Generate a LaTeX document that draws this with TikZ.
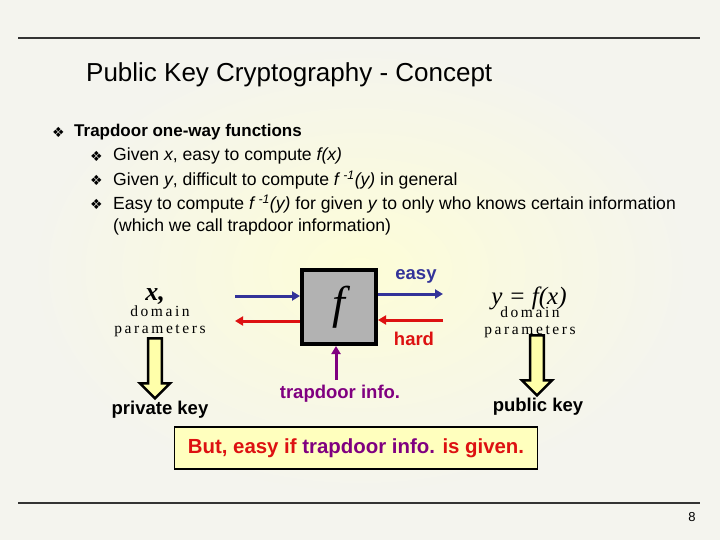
\documentclass[tikz,border=0pt]{standalone}
\usepackage{fontspec}
\setmainfont{Liberation Sans}
\newfontfamily\serifx{Liberation Serif}
\newfontfamily\djfont{DejaVu Sans}
\usetikzlibrary{arrows.meta,shapes.arrows}
\definecolor{bgc}{RGB}{244,244,238}
\definecolor{glow}{RGB}{253,253,215}
\definecolor{bl}{RGB}{51,51,153}
\definecolor{rd}{RGB}{221,17,17}
\definecolor{pu}{RGB}{128,0,128}
\definecolor{ylw}{RGB}{255,255,170}
\definecolor{boxy}{RGB}{255,255,190}
\tikzset{
 txt/.style={anchor=west,inner sep=0pt,font=\fontsize{17.6}{20}\selectfont},
 bul/.style={anchor=west,inner sep=0pt,font=\djfont\fontsize{14}{16}\selectfont},
 arr/.style={line width=3pt,-{Triangle[length=8pt,width=9pt]}},
 big/.style={single arrow,draw=black,line width=2.5pt,fill=ylw,shape border rotate=270,minimum height=60pt,minimum width=30pt,single arrow head extend=5pt,inner sep=3pt},
 lab/.style={font=\bfseries\fontsize{18.5}{20}\selectfont,inner sep=0pt}
}
\begin{document}
\begin{tikzpicture}[x=1pt,y=-1pt]
\useasboundingbox (0,0) rectangle (720,540);
\fill[bgc] (0,0) rectangle (720,540);
\shade[inner color=glow,outer color=bgc] (30,45) rectangle (690,495);
\draw[line width=2pt,gray!40!black] (18,38) -- (700,38);
\draw[line width=2pt,gray!40!black] (18,503) -- (700,503);
\node[anchor=west,inner sep=0pt,font=\fontsize{26}{28}\selectfont] (title) at (86,75) {Public Key Cryptography - Concept};
\node[bul] (b0) at (52,132) {❖};
\node[txt,font=\bfseries\fontsize{17}{20}\selectfont] (t0) at (74,132) {Trapdoor one-way functions};
\node[bul] (b1) at (90,156) {❖};
\node[txt] (t1) at (113,156) {Given \textit{x}, easy to compute \textit{f(x)}};
\node[bul] (b2) at (90,180) {❖};
\node[txt] (t2) at (113,180) {Given \textit{y}, difficult to compute \textit{f}\,\textsuperscript{\textit{-1}}\textit{(y)} in general};
\node[bul] (b3) at (90,204) {❖};
\node[txt] (t3) at (113,204) {Easy to compute \textit{f}\,\textsuperscript{\textit{-1}}\textit{(y)} for given \textit{y} to only who knows certain information};
\node[txt] (t4) at (113,227) {(which we call trapdoor information)};
% f box
\node[draw,line width=4pt,fill=gray!60,minimum size=74pt,inner sep=0pt,font=\serifx\itshape\fontsize{46}{48}\selectfont] (f) at (339,307) {f};
\coordinate (la) at (235,296); \coordinate (lb) at (235,321);
\coordinate (ra) at (443,294); \coordinate (rb) at (443,320);
\coordinate (pb) at (336,380);
\draw[arr,bl] (la) -- (la -| f.west);
\draw[arr,rd] (lb -| f.west) -- (lb);
\draw[arr,bl] (ra -| f.east) -- (ra);
\draw[arr,rd] (rb) -- (rb -| f.east);
\draw[arr,pu] (pb) -- (pb |- f.south);
\node[lab,bl] (easy) at (416,276) {easy};
\node[lab,rd] (hard) at (414,339) {hard};
\node[lab,pu] (trap) at (340,394) {trapdoor info.};
\node[inner sep=0pt,font=\serifx\itshape\bfseries\fontsize{26}{28}\selectfont] (x) at (155,297) {x,};
\node[inner sep=0pt,font=\serifx\fontsize{15.5}{17}\selectfont,text width=140pt,align=center] (dl) at (160,321) {d\,o\,m\,a\,i\,n p\,a\,r\,a\,m\,e\,t\,e\,r\,s};
\node[inner sep=0pt,font=\serifx\itshape\fontsize{25}{27}\selectfont] (y) at (529,298) {y = f(x)};
\node[inner sep=0pt,font=\serifx\fontsize{15.5}{17}\selectfont,text width=140pt,align=center] (dr) at (530,322) {d\,o\,m\,a\,i\,n p\,a\,r\,a\,m\,e\,t\,e\,r\,s};
\node[big] (ad) at (155,365) {};
\node[big] (bd) at (537,362) {};
\node[lab,black] (pk) at (160,410) {private key};
\node[lab,black] (pub) at (538,407) {public key};
\node[draw,line width=1.5pt,fill=boxy,minimum width=363pt,minimum height=42pt,font=\bfseries\fontsize{20.4}{22}\selectfont] (note) at (356,448) {\textcolor{rd}{But, easy if} \textcolor{pu}{trapdoor info.} \textcolor{rd}{is given.}};
\node[inner sep=0pt,font=\fontsize{13}{15}\selectfont] (pg) at (692,517) {8};
\end{tikzpicture}
\end{document}
